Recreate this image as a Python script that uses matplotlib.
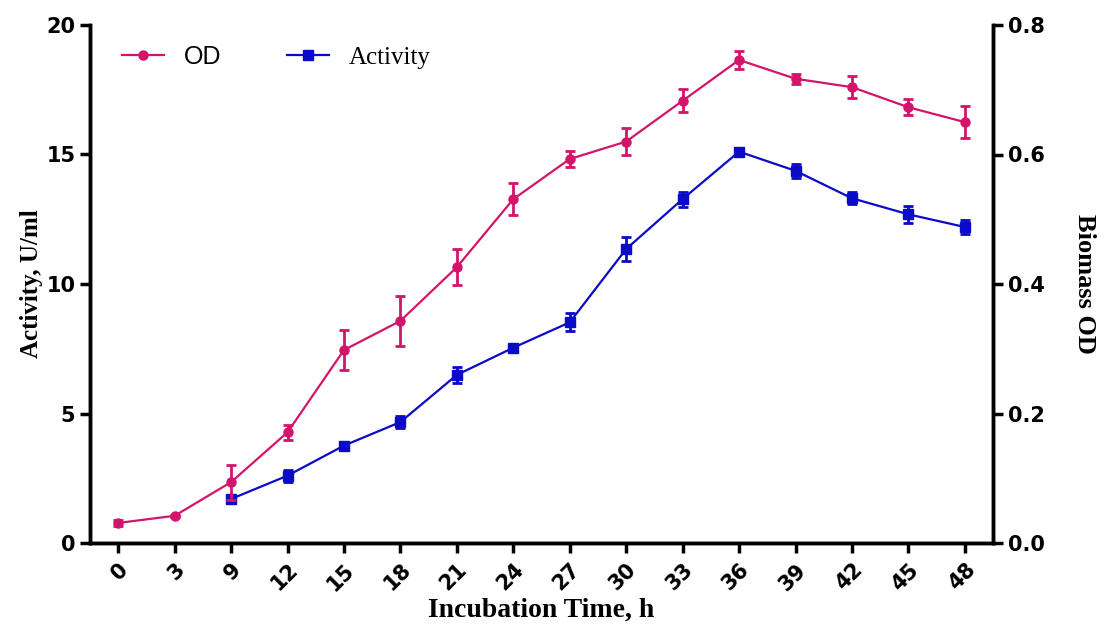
import numpy as np
import matplotlib
matplotlib.use('Agg')
import matplotlib.pyplot as plt

# datos
horas = ['0', '3', '9', '12', '15', '18', '21', '24', '27', '30', '33', '36', '39', '42', '45', '48']

od = [0.031, 0.042, 0.094, 0.171, 0.298, 0.343, 0.426, 0.531, 0.593, 0.620,
      0.683, 0.746, 0.717, 0.704, 0.673, 0.650]
od_err = [0.004, 0.002, 0.027, 0.012, 0.031, 0.039, 0.028, 0.025, 0.012, 0.021,
          0.018, 0.014, 0.008, 0.017, 0.012, 0.025]

act_horas = horas[2:]
act = [1.70, 2.60, 3.76, 4.67, 6.49, 7.54, 8.52, 11.35, 13.28, 15.11, 14.37, 13.31, 12.69, 12.20]
act_err = [0.15, 0.23, 0.15, 0.23, 0.30, 0.15, 0.35, 0.47, 0.29, 0.05, 0.26, 0.23, 0.34, 0.27]

rosa = '#d3146b'
azul = '#0a0ac8'

x = np.arange(len(horas))
xa = np.array([horas.index(h) for h in act_horas])

fig = plt.figure(figsize=(11.04, 6.25), dpi=100)
ax = fig.add_axes([0.0815, 0.1312, 0.818, 0.8288])
ax2 = ax.twinx()

la = ax.errorbar(xa, act, yerr=act_err, color=azul, marker='s', markersize=7,
                 lw=1.6, elinewidth=2, capsize=3.5, capthick=2)
lo = ax2.errorbar(x, od, yerr=od_err, color=rosa, marker='o', markersize=6.5,
                  lw=1.6, elinewidth=2, capsize=3.5, capthick=2)

ax.set_xlim(-0.5, len(horas) - 0.5)
ax.set_ylim(0, 20)
ax2.set_ylim(0, 0.8)
ax.set_yticks([0, 5, 10, 15, 20])
ax2.set_yticks([0, 0.2, 0.4, 0.6, 0.8])
ax2.set_yticklabels(['0.0', '0.2', '0.4', '0.6', '0.8'])
ax.set_xticks(x)
ax.set_xticklabels(horas, rotation=45, ha='right', rotation_mode='anchor')

for a in (ax, ax2):
    a.spines['top'].set_visible(False)
    for s in ('left', 'right', 'bottom'):
        a.spines[s].set_linewidth(2.5)
    a.tick_params(width=2.5, length=7, direction='out')
    for lab in a.get_xticklabels() + a.get_yticklabels():
        lab.set_fontfamily('DejaVu Sans')
        lab.set_fontweight('heavy')
        lab.set_fontsize(15)

ax.tick_params(axis='x', pad=5)

ax.set_xlabel('Incubation Time, h', family='Liberation Serif', weight='bold', fontsize=20, labelpad=2)
ax.set_ylabel('Activity, U/ml', family='Liberation Serif', weight='bold', fontsize=18, labelpad=2)
ax2.set_ylabel('Biomass OD', family='Liberation Serif', weight='bold', fontsize=19,
               rotation=270, labelpad=37)

leg = ax2.legend([lo[0], la[0]], ['OD', 'Activity'], loc='upper left', ncol=2, frameon=False,
                 fontsize=18, handlelength=1.7, handletextpad=0.8, columnspacing=2.6,
                 bbox_to_anchor=(0.01, 1.005))
t = leg.get_texts()
t[0].set_fontfamily('Liberation Sans')
t[1].set_fontfamily('Liberation Serif')

fig.savefig('out.png', dpi=100)
